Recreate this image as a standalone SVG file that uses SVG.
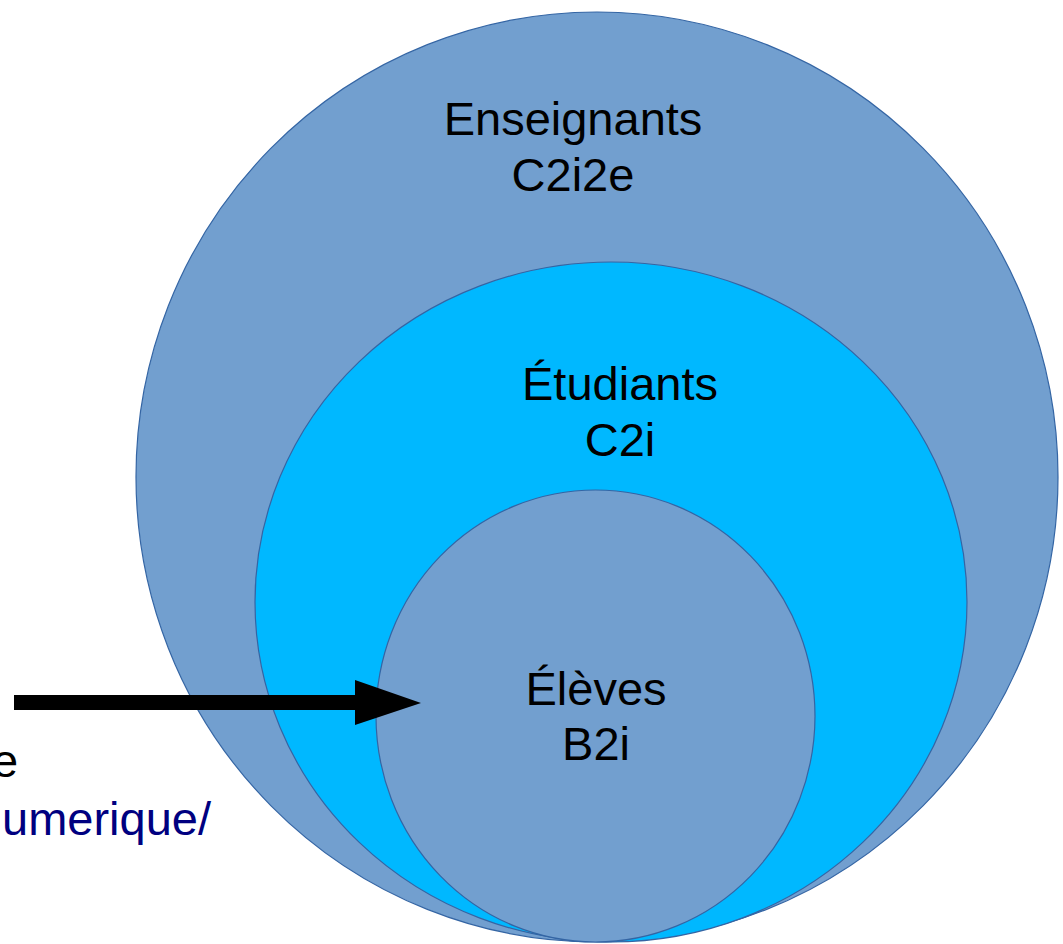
<svg xmlns="http://www.w3.org/2000/svg" width="1063" height="944" viewBox="0 0 1063 944">
<style>
.c{fill:#729fcf;stroke:#3465a4;stroke-width:1.2}
.m{fill:#00b8ff;stroke:#3465a4;stroke-width:1.2}
.t{font-family:"Liberation Sans",Arial,sans-serif;font-size:47px;fill:#000;text-anchor:middle}
.l{font-family:"Liberation Sans",Arial,sans-serif;font-size:47px}
</style>
<rect width="1063" height="944" fill="#fff"/>
<g id="enseignants">
<ellipse class="c" cx="597" cy="477" rx="461" ry="465"/>
<text class="t" x="573" y="135">Enseignants</text>
<text class="t" x="573" y="191">C2i2e</text>
</g>
<g id="etudiants">
<ellipse class="m" cx="611" cy="602" rx="356" ry="340"/>
<text class="t" x="620" y="400">Étudiants</text>
<text class="t" x="620" y="456">C2i</text>
</g>
<g id="eleves">
<ellipse class="c" cx="595.5" cy="716" rx="219.5" ry="226"/>
<text class="t" x="596" y="705">Élèves</text>
<text class="t" x="596" y="760">B2i</text>
</g>
<g id="label">
<text class="l" x="-8" y="777" fill="#000">e</text>
<text class="l" x="2" y="835" fill="#000080">umerique/</text>
</g>
<g id="connectors">
<polygon points="14,695 355,695 355,680 421,703 355,725 355,710 14,710" fill="#000"/>
</g>
</svg>
